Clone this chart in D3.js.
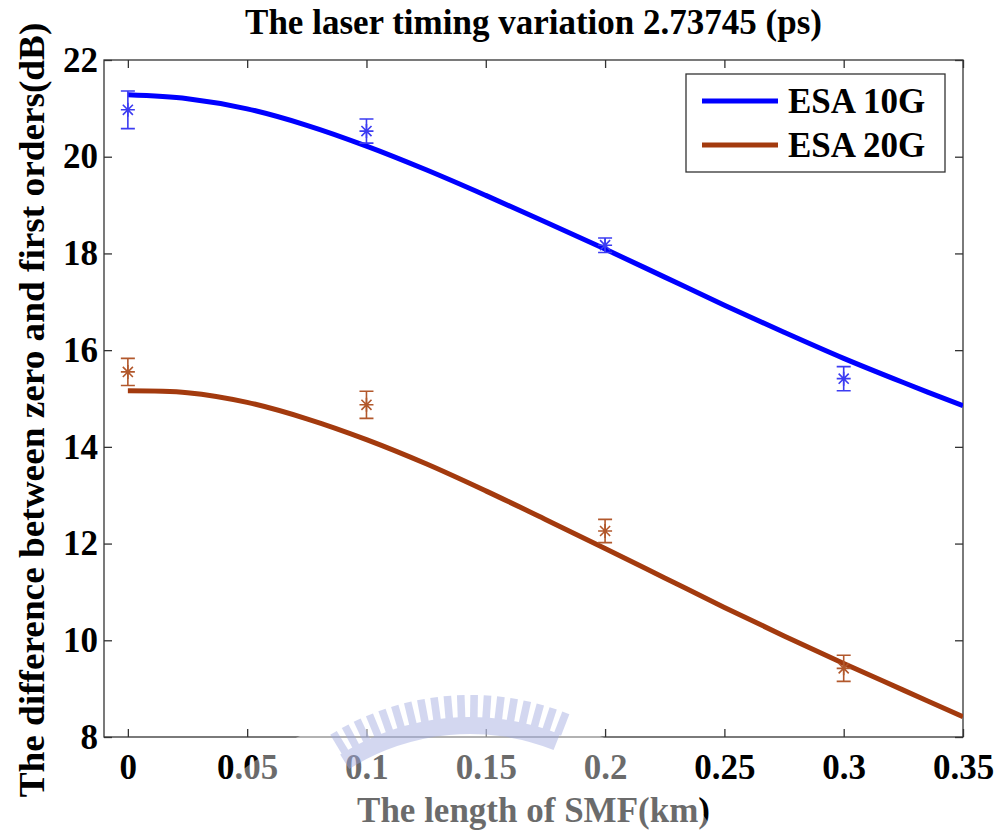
<!DOCTYPE html>
<html>
<head>
<meta charset="utf-8">
<script src="https://cdn.jsdelivr.net/npm/d3@7/dist/d3.min.js"></script>
<style>
  html, body { margin: 0; padding: 0; background: #fff; }
  svg { display: block; }
  text { font-family: "Liberation Serif", "Times New Roman", serif; font-weight: bold; fill: #000; }
</style>
</head>
<body>
<svg id="chart" width="1003" height="832"></svg>
<script>
// Measured points (mean ± error) at each SMF length
const lengths = [0, 0.1, 0.2, 0.3];
const esa10Mean = [20.97, 20.53, 18.17, 15.41];
const esa10Err  = [0.39, 0.25, 0.15, 0.25];
const esa20Mean = [15.55, 14.87, 12.26, 9.42];
const esa20Err  = [0.28, 0.28, 0.24, 0.27];

// Fitted curves
const fitX = [0, 0.025, 0.05, 0.075, 0.1, 0.125, 0.15, 0.175, 0.2, 0.225, 0.25, 0.275, 0.3, 0.325, 0.35];
const fit10 = [21.28, 21.20, 20.99, 20.65, 20.22, 19.73, 19.20, 18.65, 18.09, 17.51, 16.93, 16.37, 15.83, 15.33, 14.85];
const fit20 = [15.16, 15.12, 14.92, 14.58, 14.15, 13.65, 13.09, 12.50, 11.90, 11.29, 10.68, 10.09, 9.52, 8.97, 8.42];

const xTicks = [0, 0.05, 0.1, 0.15, 0.2, 0.25, 0.3, 0.35];
const yTicks = [8, 10, 12, 14, 16, 18, 20, 22];

const seriesNames = ["ESA 10G", "ESA 20G"];
const lineColors = ["#0000ff", "#a33a0e"];
const barColors = ["#3c3cf2", "#b2582c"];

const W = 1003, H = 832;
const margin = { top: 60, right: 40, bottom: 95, left: 104 };
const svg = d3.select("#chart");

const x = d3.scaleLinear().domain([-0.01, 0.35]).range([margin.left, W - margin.right]);
const y = d3.scaleLinear().domain([8, 22]).range([H - margin.bottom, margin.top]);

const frameColor = "#333";
const fontSize = 35;

// plot frame
svg.append("rect")
  .attr("x", x.range()[0]).attr("y", y.range()[1])
  .attr("width", x.range()[1] - x.range()[0])
  .attr("height", y.range()[0] - y.range()[1])
  .attr("fill", "none").attr("stroke", frameColor).attr("stroke-width", 1.3);

// axes with inward ticks on all four sides
const tickLen = 8;
const fmtX = d => d === 0 ? "0" : String(+d.toFixed(2));
const bottomAxis = d3.axisBottom(x).tickValues(xTicks).tickSize(-tickLen).tickPadding(10).tickFormat(fmtX);
const topAxis = d3.axisTop(x).tickValues(xTicks).tickSize(-tickLen).tickFormat("");
const leftAxis = d3.axisLeft(y).tickValues(yTicks).tickSize(-tickLen).tickPadding(6).tickFormat(d3.format("d"));
const rightAxis = d3.axisRight(y).tickValues(yTicks).tickSize(-tickLen).tickFormat("");

function styleAxis(g) {
  g.select(".domain").remove();
  g.selectAll(".tick line").attr("stroke", frameColor).attr("stroke-width", 1.3);
  g.selectAll(".tick text")
    .attr("font-family", "Liberation Serif, Times New Roman, serif")
    .attr("font-weight", "bold")
    .attr("font-size", fontSize)
    .attr("fill", "#000");
}

svg.append("g").attr("transform", `translate(0,${y.range()[0]})`).call(bottomAxis).call(styleAxis)
  .selectAll(".tick text").attr("dy", "0.9em");
svg.append("g").attr("transform", `translate(0,${y.range()[1]})`).call(topAxis).call(styleAxis);
svg.append("g").attr("transform", `translate(${x.range()[0]},0)`).call(leftAxis).call(styleAxis);
svg.append("g").attr("transform", `translate(${x.range()[1]},0)`).call(rightAxis).call(styleAxis);

// clip region for the curves
svg.append("clipPath").attr("id", "plotClip")
  .append("rect")
  .attr("x", x.range()[0]).attr("y", y.range()[1])
  .attr("width", x.range()[1] - x.range()[0])
  .attr("height", y.range()[0] - y.range()[1]);

const line = d3.line().x(d => x(d[0])).y(d => y(d[1])).curve(d3.curveCatmullRom.alpha(0.5));
[fit10, fit20].forEach((vals, i) => {
  svg.append("path")
    .datum(fitX.map((fx, k) => [fx, vals[k]]))
    .attr("clip-path", "url(#plotClip)")
    .attr("d", line)
    .attr("fill", "none")
    .attr("stroke", lineColors[i])
    .attr("stroke-width", 5)
    .attr("stroke-linecap", "butt");
});

// error bars with asterisk markers
const capHalf = 7, starR = 7;
function asterisk(cx, cy, r) {
  const d = r * 0.72;
  return `M${cx - r},${cy}L${cx + r},${cy}M${cx},${cy - r}L${cx},${cy + r}` +
         `M${cx - d},${cy - d}L${cx + d},${cy + d}M${cx - d},${cy + d}L${cx + d},${cy - d}`;
}
[[esa10Mean, esa10Err], [esa20Mean, esa20Err]].forEach(([means, errs], i) => {
  const g = svg.append("g").attr("stroke", barColors[i]).attr("stroke-width", 1.6).attr("fill", "none");
  lengths.forEach((lx, k) => {
    const cx = x(lx), top = y(means[k] + errs[k]), bot = y(means[k] - errs[k]);
    g.append("path").attr("d", `M${cx},${top}L${cx},${bot}M${cx - capHalf},${top}L${cx + capHalf},${top}M${cx - capHalf},${bot}L${cx + capHalf},${bot}`);
    g.append("path").attr("d", asterisk(cx, y(means[k]), starR));
  });
});

// legend
const lg = svg.append("g");
lg.append("rect").attr("x", 686).attr("y", 74).attr("width", 259).attr("height", 98)
  .attr("fill", "#fff").attr("stroke", frameColor).attr("stroke-width", 1.3);
seriesNames.forEach((name, i) => {
  const ly = 101 + i * 44;
  lg.append("line").attr("x1", 702).attr("x2", 778).attr("y1", ly).attr("y2", ly)
    .attr("stroke", lineColors[i]).attr("stroke-width", 5);
  lg.append("text").attr("x", 788).attr("y", ly + 12).attr("font-size", fontSize).text(name);
});

// titles
svg.append("text").attr("x", (x.range()[0] + x.range()[1]) / 2).attr("y", 34)
  .attr("text-anchor", "middle").attr("font-size", fontSize)
  .text("The laser timing variation 2.73745 (ps)");
svg.append("text").attr("x", (x.range()[0] + x.range()[1]) / 2).attr("y", 822)
  .attr("text-anchor", "middle").attr("font-size", fontSize)
  .text("The length of SMF(km)");
svg.append("text")
  .attr("transform", `translate(44,410) rotate(-90) scale(1.065,1)`)
  .attr("text-anchor", "middle").attr("font-size", fontSize)
  .text("The difference between zero and first orders(dB)");

// faint seal printed over the lower middle of the page
const seal = svg.append("g");
seal.append("ellipse").attr("cx", 450).attr("cy", 920).attr("rx", 290).attr("ry", 215)
  .attr("fill", "#fff").attr("opacity", 0.42);
const ring = seal.append("g").attr("fill", "#9ea8e0").attr("opacity", 0.45);
const sc = { x: 470, y: 960 }, rOut = 265, rMid = 243, rIn = 226;
const a0 = -31, a1 = 22;
d3.range(a0, a1, 2.9).forEach(a => {
  ring.append("rect")
    .attr("x", -3.8).attr("y", -rOut).attr("width", 7.6).attr("height", rOut - rMid + 1)
    .attr("transform", `translate(${sc.x},${sc.y}) rotate(${a})`);
});
ring.append("path")
  .attr("transform", `translate(${sc.x},${sc.y})`)
  .attr("d", d3.arc().innerRadius(rIn).outerRadius(rMid)
    .startAngle((a0 - 1.3) * Math.PI / 180).endAngle((a1 - 0.3) * Math.PI / 180)());
</script>
</body>
</html>
